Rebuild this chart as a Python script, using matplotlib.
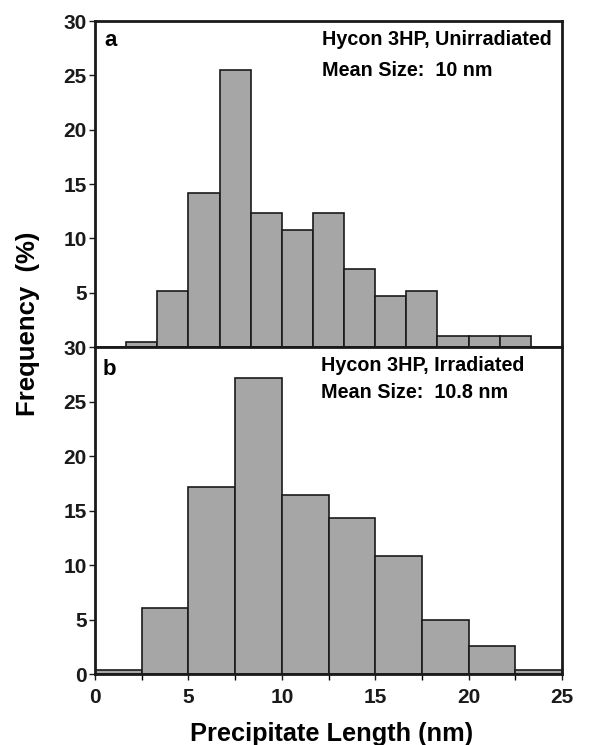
import matplotlib
matplotlib.use("Agg")
import matplotlib.pyplot as plt
import numpy as np

plt.rcParams["font.family"] = ["Liberation Sans", "DejaVu Sans"]
plt.rcParams["font.weight"] = "bold"

# ── Data ────────────────────────────────────────────────────────────────────
# (a) unirradiated: 13 bins of width 5/3 nm, starting at 5/3 nm
unirr_edges = np.arange(1, 15) * 5 / 3
unirr_freq = [0.5, 5.15, 14.2, 25.5, 12.3, 10.8, 12.3, 7.15, 4.7, 5.15, 1.0, 1.0, 1.0]

# (b) irradiated: 10 bins of width 2.5 nm
irr_edges = np.arange(0, 27.5, 2.5)
irr_freq = [0.4, 6.1, 17.2, 27.2, 16.4, 14.3, 10.8, 5.0, 2.6, 0.4]

caption_a = ["Hycon 3HP, Unirradiated", "Mean Size:  10 nm"]
caption_b = ["Hycon 3HP, Irradiated", "Mean Size:  10.8 nm"]

BAR_FC = "#a6a6a6"
BAR_EC = "#1a1a1a"

fig = plt.figure(figsize=(5.89, 7.45), dpi=100)
ax_a = fig.add_axes([0.1613, 0.5342, 0.7929, 0.4376])
ax_b = fig.add_axes([0.1613, 0.0953, 0.7929, 0.4389], sharex=ax_a)


def draw_panel(ax, edges, freq):
    edges = np.asarray(edges)
    ax.bar(edges[:-1], freq, width=np.diff(edges), align="edge",
           color=BAR_FC, edgecolor=BAR_EC, linewidth=1.2, zorder=2)
    ax.set_ylim(0, 30)
    ax.set_xlim(0, 25)
    for sp in ax.spines.values():
        sp.set_linewidth(2.0)
        sp.set_color("#1a1a1a")
    ax.tick_params(axis="both", direction="out", length=4, width=1.0,
                   labelsize=15, pad=2, colors="#1a1a1a")


draw_panel(ax_a, unirr_edges, unirr_freq)
draw_panel(ax_b, irr_edges, irr_freq)

ax_a.set_yticks([5, 10, 15, 20, 25, 30])
ax_a.tick_params(axis="x", bottom=False, labelbottom=False)
ax_b.set_yticks([0, 5, 10, 15, 20, 25, 30])
ax_b.set_xticks([0, 5, 10, 15, 20, 25])
ax_b.set_xticks(np.arange(2.5, 25, 5), minor=True)
ax_b.tick_params(axis="x", which="both", direction="out", length=4,
                 width=1.0, pad=6)

# panel letters and captions
ax_a.text(0.034, 0.94, "a", transform=ax_a.transAxes, fontsize=16,
          ha="center", va="center")
ax_b.text(0.030, 0.93, "b", transform=ax_b.transAxes, fontsize=16,
          ha="center", va="center")
for line, y in zip(caption_a, [0.942, 0.847]):
    ax_a.text(0.486, y, line, transform=ax_a.transAxes, fontsize=14.2,
              ha="left", va="center")
for line, y in zip(caption_b, [0.945, 0.862]):
    ax_b.text(0.484, y, line, transform=ax_b.transAxes, fontsize=14.2,
              ha="left", va="center")

fig.text(0.048, 0.566, "Frequency  (%)", rotation=90, fontsize=18.5,
         ha="center", va="center")
fig.text(0.563, 0.015, "Precipitate Length (nm)", fontsize=18.3,
         ha="center", va="center")

fig.savefig("out.png", dpi=100)
